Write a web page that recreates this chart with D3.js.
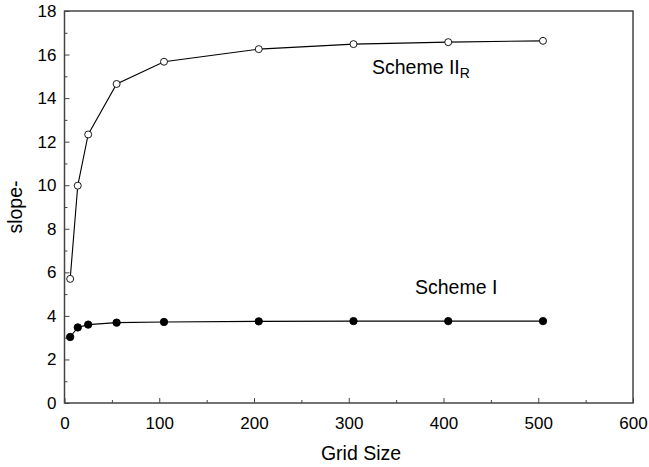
<!DOCTYPE html>
<html><head><meta charset="utf-8">
<script src="https://cdn.jsdelivr.net/npm/d3@7"></script>
<style>body{margin:0;background:#fff}svg{display:block}text{font-family:Arial,"Liberation Sans",Helvetica,sans-serif;fill:#000}</style>
</head><body><svg id="c" width="649" height="467"></svg>
<script>
const gridSize = [6, 14, 25, 55, 105, 205, 305, 405, 505];
const schemeII_R = [5.7, 9.98, 12.33, 14.65, 15.67, 16.25, 16.48, 16.57, 16.63];
const schemeI = [3.03, 3.47, 3.6, 3.69, 3.72, 3.75, 3.76, 3.76, 3.76];
const xTicks = [0, 100, 200, 300, 400, 500, 600];
const yTicks = [0, 2, 4, 6, 8, 10, 12, 14, 16, 18];

const svg = d3.select("#c");
const L = 64.5, R = 633, T = 11, B = 403;
const x = d3.scaleLinear().domain([0, 600]).range([L, R]);
const y = d3.scaleLinear().domain([0, 18]).range([B, T]);
const axisCol = "#444";

// frame
svg.append("rect").attr("x", L).attr("y", T).attr("width", R - L).attr("height", B - T)
  .attr("fill", "none").attr("stroke", axisCol).attr("stroke-width", 1.5);

// bottom axis
const gx = svg.append("g").attr("transform", `translate(0,${B})`)
  .call(d3.axisBottom(x).tickValues(xTicks).tickSize(-5).tickPadding(12).tickFormat(d3.format("d")));
gx.select(".domain").remove();
gx.selectAll("line").attr("stroke", axisCol).attr("stroke-width", 1);
gx.selectAll("text").attr("font-size", 17).attr("dy", "0.71em").attr("y", 14);
svg.append("g").attr("transform", `translate(0,${B})`)
  .call(d3.axisBottom(x).tickValues(d3.range(50, 600, 100)).tickSize(-3).tickFormat(""))
  .call(g => g.select(".domain").remove())
  .selectAll("line").attr("stroke", axisCol);

// left axis
const gy = svg.append("g").attr("transform", `translate(${L},0)`)
  .call(d3.axisLeft(y).tickValues(yTicks).tickSize(-5).tickPadding(8));
gy.select(".domain").remove();
gy.selectAll("line").attr("stroke", axisCol).attr("stroke-width", 1);
gy.selectAll("text").attr("font-size", 17).attr("x", -8);
svg.append("g").attr("transform", `translate(${L},0)`)
  .call(d3.axisLeft(y).tickValues(d3.range(1, 18, 2)).tickSize(-3).tickFormat(""))
  .call(g => g.select(".domain").remove())
  .selectAll("line").attr("stroke", axisCol);

// titles
svg.append("text").attr("x", 361).attr("y", 460).attr("text-anchor", "middle")
  .attr("font-size", 19.5).text("Grid Size");
svg.append("text").attr("transform", "translate(22,207) rotate(-90)").attr("text-anchor", "middle")
  .attr("font-size", 19.5).text("slope-");

const line = d3.line().x((d, i) => x(gridSize[i])).y(d => y(d));
function series(vals, fill, r) {
  svg.append("path").datum(vals).attr("d", line).attr("fill", "none")
    .attr("stroke", "#000").attr("stroke-width", 1.1);
  svg.append("g").selectAll("circle").data(vals).join("circle")
    .attr("cx", (d, i) => x(gridSize[i])).attr("cy", d => y(d)).attr("r", r)
    .attr("fill", fill).attr("stroke", "#000").attr("stroke-width", 0.9);
}
series(schemeII_R, "#fff", 3.5);
series(schemeI, "#000", 3.7);

// labels
const t1 = svg.append("text").attr("x", 372).attr("y", 74).attr("font-size", 19.5);
t1.append("tspan").text("Scheme II");
t1.append("tspan").attr("font-size", 14).attr("dy", 4).text("R");
svg.append("text").attr("x", 415).attr("y", 294).attr("font-size", 19.5).text("Scheme I");
</script></body></html>
